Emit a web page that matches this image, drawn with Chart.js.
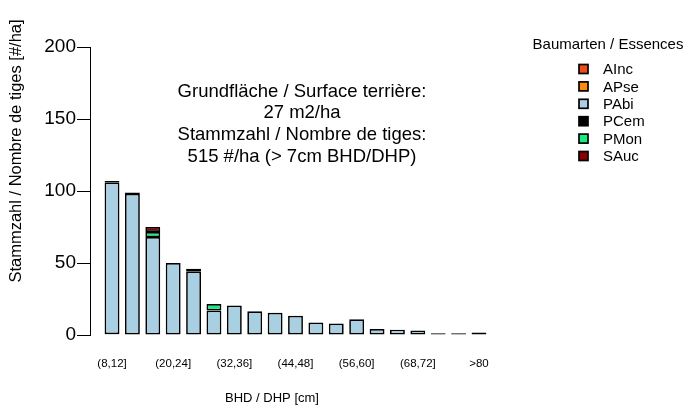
<!DOCTYPE html>
<html>
<head>
<meta charset="utf-8">
<script src="https://cdn.jsdelivr.net/npm/chart.js@4/dist/chart.umd.min.js"></script>
<style>
  html, body { margin: 0; padding: 0; background: #fff; }
  #wrap { width: 689px; height: 408px; }
</style>
</head>
<body>
<div id="wrap"><canvas id="myChart" width="689" height="408"></canvas></div>
<script>
// diameter classes (every third one gets a tick label)
var klassen = ["(8,12]", "(12,16]", "(16,20]", "(20,24]", "(24,28]", "(28,32]", "(32,36]",
  "(36,40]", "(40,44]", "(44,48]", "(48,52]", "(52,56]", "(56,60]", "(60,64]",
  "(64,68]", "(68,72]", "(72,76]", "(76,80]", ">80"];

// stems per ha, per species
var aInc = [0, 0, 0, 0, 0, 0, 0, 0, 0, 0, 0, 0, 0, 0, 0, 0, 0, 0, 0];
var aPse = [0.5, 0, 0, 0, 0, 0, 0, 0, 0, 0, 0, 0, 0, 0, 0, 0, 0, 0, 0];
var pAbi = [105.5, 98, 68, 50, 44, 17, 20.5, 16.5, 15.5, 13.4, 8.6, 7.9, 10.9, 4.2, 3.7, 3.2, 1.3, 1.3, 1.8];
var pCem = [1, 1, 0, 0, 0, 0, 0, 0, 0, 0, 0, 0, 0, 0, 0, 0, 0, 0, 0];
var pMon = [0, 0, 3.5, 0, 2, 4.5, 0, 0, 0, 0, 0, 0, 0, 0, 0, 0, 0, 0, 0];
var sAuc = [0, 0, 3.5, 0, 0, 0, 0, 0, 0, 0, 0, 0, 0, 0, 0, 0, 0, 0, 0];

var yTicks = [0, 50, 100, 150, 200];

var infoText = ["Grundfläche / Surface terrière:", "27 m2/ha",
  "Stammzahl / Nombre de tiges:", "515 #/ha (> 7cm BHD/DHP)"];

var schrift = "'Liberation Sans', Arial, sans-serif";

function serie(name, werte, farbe) {
  return {
    label: name,
    data: werte.map(function (v, i) { return { x: i, y: v > 0 ? v : null }; }),
    backgroundColor: farbe,
    borderColor: "#000",
    borderWidth: 1.7,
    borderSkipped: false,
    barPercentage: 0.73,
    categoryPercentage: 1
  };
}

var datasets = [
  serie("AInc", aInc, "#EE4E14"),
  serie("APse", aPse, "#FF8A0A"),
  serie("PAbi", pAbi, "#A8CFE2"),
  serie("PCem", pCem, "#000000"),
  serie("PMon", pMon, "#12EE80"),
  serie("SAuc", sAuc, "#8B0000")
];

// titles, info text and legend drawn on top
var extras = {
  id: "extras",
  afterDraw: function (chart) {
    var ctx = chart.ctx;
    ctx.save();
    ctx.fillStyle = "#000";
    ctx.textAlign = "center";
    ctx.textBaseline = "middle";

    ctx.font = "18.5px " + schrift;
    var zeilen = [92, 113, 135, 157];
    infoText.forEach(function (t, i) { ctx.fillText(t, 302, zeilen[i]); });

    ctx.font = "13px " + schrift;
    ctx.fillText("BHD / DHP [cm]", 272, 398);

    ctx.save();
    ctx.translate(16, 151);
    ctx.rotate(-Math.PI / 2);
    ctx.font = "16.5px " + schrift;
    ctx.fillText("Stammzahl / Nombre de tiges [#/ha]", 0, 0);
    ctx.restore();

    // legend
    ctx.font = "15px " + schrift;
    ctx.fillText("Baumarten / Essences", 608, 45);
    ctx.textAlign = "left";
    ctx.font = "15px " + schrift;
    chart.data.datasets.forEach(function (ds, i) {
      var y = 69 + i * 17.4;
      ctx.fillStyle = ds.backgroundColor;
      ctx.fillRect(579, y - 4.5, 9, 9);
      ctx.strokeStyle = "#000";
      ctx.lineWidth = 1.7;
      ctx.strokeRect(579, y - 4.5, 9, 9);
      ctx.fillStyle = "#000";
      ctx.fillText(ds.label, 603, y + 1);
    });
    ctx.restore();
  }
};

var ctx = document.getElementById("myChart").getContext("2d");
var myChart = new Chart(ctx, {
  type: "bar",
  data: { datasets: datasets },
  plugins: [extras],
  options: {
    responsive: false,
    animation: false,
    layout: { padding: { top: 47, right: 188, left: 0, bottom: 0 } },
    plugins: {
      legend: { display: false },
      tooltip: { enabled: false }
    },
    scales: {
      x: {
        type: "linear",
        stacked: true,
        offset: false,
        min: -1.08,
        max: 19.08,
        grid: { display: false, offset: false },
        border: { display: false },
        afterFit: function (scale) { scale.height = 73; },
        afterBuildTicks: function (scale) {
          scale.ticks = klassen.map(function (k, i) { return { value: i }; })
            .filter(function (t) { return t.value % 3 === 0; });
        },
        ticks: {
          autoSkip: false,
          maxRotation: 0,
          padding: 14,
          color: "#000",
          font: { family: schrift, size: 11.5 },
          callback: function (v) { return klassen[v]; }
        }
      },
      y: {
        stacked: true,
        min: 0,
        max: 200,
        afterFit: function (scale) { scale.width = 90; },
        afterBuildTicks: function (scale) {
          scale.ticks = yTicks.map(function (v) { return { value: v }; });
        },
        grid: {
          drawOnChartArea: false,
          drawTicks: true,
          tickLength: 13,
          color: "#000",
          lineWidth: 1
        },
        border: { display: true, color: "#000", width: 1 },
        ticks: {
          padding: 1,
          color: "#000",
          font: { family: schrift, size: 19 }
        }
      }
    }
  }
});
</script>
</body>
</html>
